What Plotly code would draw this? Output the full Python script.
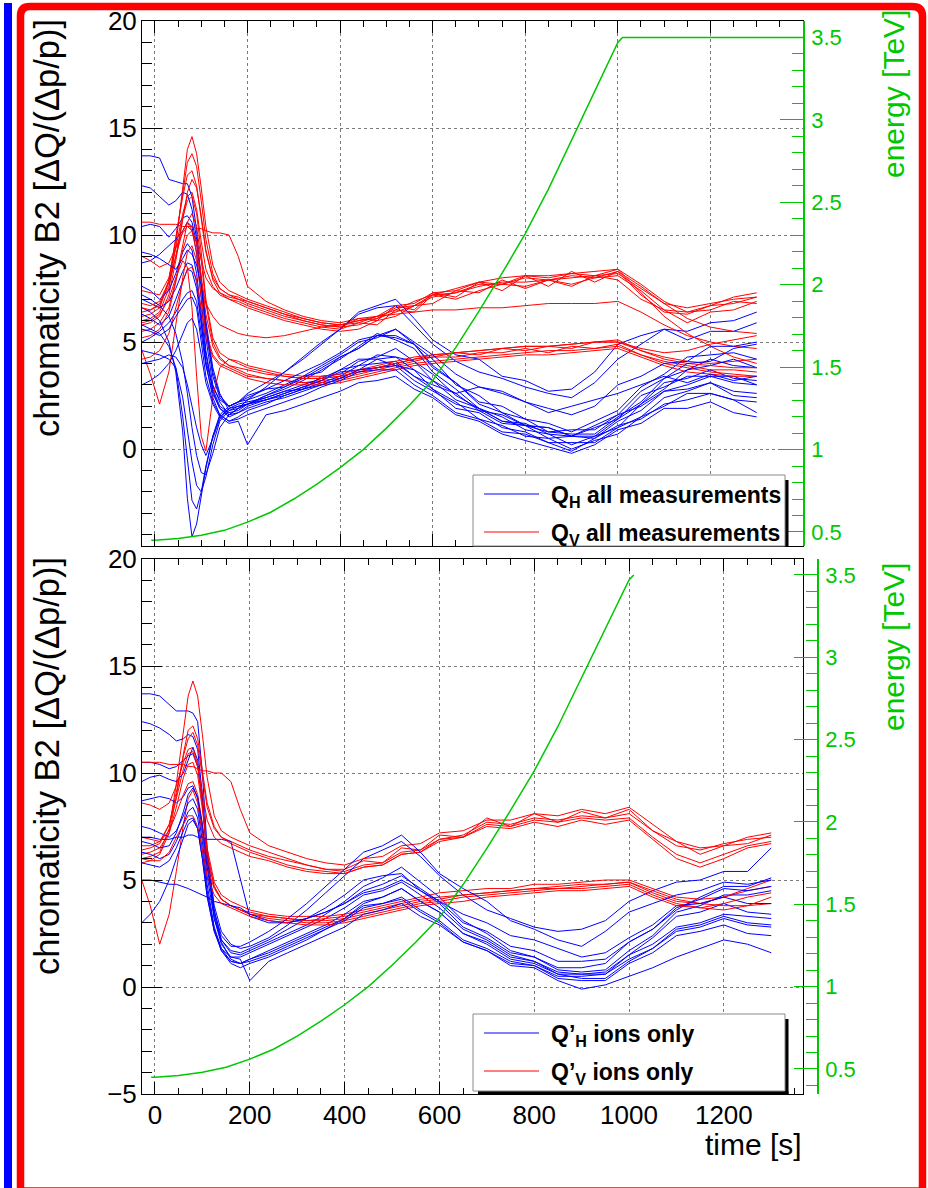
import plotly.graph_objects as go

W, H = 928, 1188

# ---------------------------------------------------------------- data ----
# common time grid of the chromaticity measurements [s]
time_s = [-28, -10, 10, 30, 45, 60, 70, 80, 90, 100,
          110, 125, 140, 160, 180, 200, 240, 280, 320, 360,
          400, 440, 480, 520, 560, 600, 650, 700, 750, 800,
          850, 900, 950, 1000, 1050, 1100, 1150, 1200, 1250, 1300]

# horizontal chromaticity, all measurements
qh_all = [
    [13.7, 13.7, 13.6, 12.6, 12.5, 12.4, 12.4, 11.8, 10.2, 7.9,
     5.6, 3.4, 2.4, 2.0, 2.2, 2.4, 2.8, 2.9, 3.4, 3.6,
     4.3, 4.7, 5.3, 5.3, 4.9, 3.9, 3.1, 2.2, 2.0, 1.4,
     1.2, 0.8, 1.3, 1.8, 2.9, 3.5, 4.3, 4.4, 4.5, 4.2],
    [12.3, 12.2, 11.8, 11.4, 11.6, 12.0, 11.9, 11.2, 9.8, 8.0,
     6.0, 3.8, 2.6, 1.8, 1.9, 2.1, 2.4, 2.7, 2.8, 3.4,
     3.5, 4.1, 4.3, 4.7, 4.1, 3.5, 2.5, 1.9, 1.3, 1.1,
     0.5, 0.6, 0.6, 1.4, 2.1, 3.1, 3.3, 3.7, 3.3, 3.2],
    [10.4, 10.5, 10.4, 9.9, 10.3, 10.8, 10.9, 10.6, 9.6, 7.8,
     5.2, 3.0, 2.2, 1.6, 1.9, 2.3, 2.9, 3.6, 4.3, 5.0,
     5.6, 6.3, 6.6, 6.7, 5.8, 4.9, 4.1, 3.6, 3.3, 2.9,
     2.6, 2.4, 3.1, 4.2, 4.9, 5.6, 5.5, 5.9, 6.0, 6.4],
    [8.7, 8.8, 9.1, 9.5, 9.8, 10.2, 10.6, 10.4, 9.1, 7.0,
     4.6, 2.7, 1.9, 1.5, 1.7, 2.0, 2.3, 2.6, 2.9, 3.2,
     3.7, 3.9, 4.4, 4.3, 4.1, 3.2, 2.6, 1.8, 1.6, 1.1,
     1.0, 0.6, 1.0, 1.4, 2.5, 2.9, 3.4, 3.4, 3.4, 3.0],
    [7.6, 7.4, 7.0, 7.4, 8.2, 9.2, 9.6, 9.3, 8.2, 6.4,
     4.4, 2.8, 2.0, 1.7, 1.8, 2.1, 2.5, 2.8, 3.2, 3.7,
     4.2, 4.8, 5.4, 5.1, 4.7, 3.6, 2.8, 1.9, 1.5, 0.9,
     0.7, 0.2, 0.6, 1.0, 2.1, 2.8, 3.7, 3.9, 4.2, 3.8],
    [7.0, 6.8, 6.6, 6.9, 7.5, 8.3, 8.7, 8.6, 7.8, 6.0,
     4.0, 2.4, 1.6, 1.3, 1.5, 1.8, 2.1, 2.5, 2.8, 3.1,
     3.4, 3.9, 4.0, 4.1, 3.4, 2.8, 1.9, 1.7, 1.0, 0.8,
     0.3, 0.3, 0.3, 1.0, 1.5, 2.4, 2.7, 3.1, 2.5, 2.4],
    [6.3, 6.1, 5.8, 6.2, 7.0, 7.9, 8.4, 8.3, 7.5, 5.8,
     4.1, 2.9, 2.3, 2.0, 2.2, 2.6, 3.1, 3.6, 4.2, 4.9,
     5.6, 6.4, 6.7, 7.0, 6.1, 5.1, 4.4, 4.2, 3.4, 3.2,
     2.7, 2.8, 3.6, 4.9, 5.3, 5.6, 5.1, 5.5, 5.5, 5.9],
    [5.0, 5.2, 5.5, 5.9, 6.4, 7.0, 7.3, 7.4, 6.9, 5.5,
     3.9, 2.6, 1.9, 1.6, 1.7, 1.9, 2.2, 2.4, 2.7, 3.0,
     3.3, 3.7, 3.8, 3.9, 3.2, 2.7, 2.1, 1.8, 1.2, 1.1,
     0.8, 0.9, 0.9, 1.6, 2.0, 2.7, 2.8, 3.1, 2.7, 2.6],
    [6.6, 6.4, 6.0, 5.0, 3.6, 0.8, -2.3, -4.1, -3.5, -2.2,
     -0.9, 0.6, 1.6, 2.0, 2.2, 2.3, 2.6, 3.0, 3.4, 3.9,
     4.4, 5.0, 5.2, 5.6, 4.9, 4.2, 3.0, 2.5, 1.7, 1.4,
     0.8, 0.7, 0.7, 1.5, 2.2, 3.3, 3.7, 4.2, 3.9, 3.8],
    [5.8, 5.6, 5.4, 4.8, 3.8, 1.5, -0.6, -2.4, -2.8, -2.0,
     -0.8, 0.6, 1.5, 1.9, 2.1, 2.2, 2.4, 2.7, 3.0, 3.3,
     3.7, 4.2, 4.2, 4.3, 3.7, 3.2, 2.3, 1.9, 1.3, 1.2,
     0.7, 0.6, 0.5, 1.3, 1.8, 2.7, 3.0, 3.4, 3.1, 3.0],
    [4.6, 4.5, 4.4, 4.2, 3.8, 2.4, 0.9, -0.6, -1.7, -2.0,
     -1.3, 0.2, 1.3, 1.8, 2.0, 2.1, 2.3, 2.6, 2.9, 3.2,
     3.6, 3.7, 4.2, 3.9, 3.7, 2.8, 2.2, 1.4, 1.1, 0.6,
     0.5, 0.0, 0.4, 0.7, 1.5, 2.0, 2.6, 2.6, 2.3, 1.7],
    [7.2, 7.0, 6.7, 6.2, 5.4, 4.0, 2.6, 1.0, -0.3, -1.1,
     -1.2, -0.2, 1.0, 1.6, 1.9, 2.1, 2.5, 2.9, 3.3, 3.8,
     4.3, 4.7, 5.3, 5.2, 4.9, 3.8, 3.1, 2.1, 1.7, 1.1,
     1.0, 0.6, 1.1, 1.6, 2.7, 3.3, 4.0, 4.1, 4.7, 4.9],
    [4.0, 4.1, 4.2, 4.4, 4.3, 3.8, 3.0, 2.0, 1.0, 0.2,
     -0.3, 0.5, 1.4, 1.9, 2.0, 2.1, 2.3, 2.5, 2.8, 3.0,
     3.3, 3.7, 3.8, 4.0, 3.4, 3.0, 2.6, 2.9, 2.7, 2.2,
     1.7, 2.0, 2.3, 2.6, 3.0, 3.4, 3.1, 3.5, 3.2, 3.4],
    [3.0, 3.2, 3.5, 4.0, 4.6, 5.4, 5.9, 6.1, 5.6, 4.4,
     3.1, 2.1, 1.5, 1.2, 1.3, 0.2, 1.6, 1.8, 2.1, 2.4,
     2.7, 3.1, 3.2, 3.4, 2.8, 2.4, 1.6, 1.3, 0.7, 0.4,
     0.1, -0.2, 0.2, 0.9, 1.2, 1.9, 1.9, 2.2, 1.7, 1.5],
    [9.2, 9.1, 8.9, 8.6, 8.4, 8.9, 9.3, 9.1, 8.6, 7.6,
     5.8, 3.6, 2.5, 2.0, 2.2, 2.5, 2.8, 3.2, 3.6, 4.0,
     4.5, 5.1, 5.3, 5.6, 5.0, 4.4, 3.5, 2.9, 2.6, 2.2,
     1.9, 1.6, 2.0, 3.0, 3.4, 4.0, 4.1, 4.8, 4.8, 5.0],
    [5.6, 5.5, 5.3, 5.6, 6.2, 6.7, 7.0, 7.1, 6.6, 5.0,
     3.4, 2.2, 1.6, 1.3, 1.4, 1.6, 1.9, 2.2, 2.5, 2.9,
     3.2, 3.6, 3.7, 3.7, 3.0, 2.5, 1.7, 1.4, 0.8, 0.7,
     0.3, -0.1, 0.5, 1.1, 1.4, 2.1, 2.3, 2.6, 2.3, 2.2],
]

# vertical chromaticity, all measurements
qv_all = [
    [6.0, 6.1, 6.4, 7.5, 9.5, 12.2, 14.0, 14.6, 13.8, 12.2,
     10.4, 8.6, 7.8, 7.4, 7.2, 7.0, 6.7, 6.4, 6.1, 5.9,
     5.8, 6.0, 6.1, 6.6, 6.7, 7.2, 7.3, 7.7, 7.7, 8.0,
     7.9, 8.1, 8.0, 8.3, 7.6, 6.8, 6.6, 6.8, 7.0, 7.1],
    [6.2, 6.3, 6.6, 7.8, 9.8, 12.0, 13.4, 13.8, 13.2, 11.6,
     9.8, 8.2, 7.5, 7.2, 7.0, 6.8, 6.5, 6.2, 6.0, 5.8,
     5.7, 6.1, 6.0, 6.7, 6.5, 7.3, 7.1, 7.8, 7.4, 8.1,
     7.6, 8.3, 7.8, 8.3, 7.2, 6.4, 6.3, 6.7, 6.8, 7.1],
    [5.8, 5.9, 6.2, 7.2, 8.8, 10.8, 12.0, 12.6, 12.2, 10.9,
     9.3, 7.9, 7.3, 7.0, 6.8, 6.6, 6.3, 6.0, 5.8, 5.6,
     5.5, 5.6, 6.0, 6.2, 6.7, 6.8, 7.4, 7.3, 7.9, 7.5,
     7.9, 7.6, 8.1, 7.9, 7.0, 6.5, 5.9, 6.4, 6.5, 6.9],
    [6.4, 6.5, 6.8, 7.6, 9.0, 10.8, 11.6, 11.8, 11.0, 9.2,
     7.0, 5.2, 4.5, 4.2, 4.0, 3.8, 3.6, 3.4, 3.3, 3.3,
     3.4, 3.6, 3.8, 4.0, 4.2, 4.3, 4.5, 4.4, 4.7, 4.6,
     4.8, 4.7, 5.0, 5.0, 4.6, 4.3, 4.1, 4.0, 4.1, 4.2],
    [5.5, 5.6, 5.9, 6.6, 7.9, 9.6, 10.6, 11.0, 10.4, 8.8,
     6.8, 5.0, 4.3, 3.9, 3.7, 3.5, 3.3, 3.2, 3.1, 3.2,
     3.3, 3.5, 3.7, 3.9, 4.1, 4.3, 4.3, 4.5, 4.5, 4.7,
     4.5, 4.8, 4.7, 4.9, 4.4, 4.0, 3.8, 3.6, 3.5, 3.4],
    [10.6, 10.6, 10.5, 10.5, 10.5, 10.4, 10.4, 10.4, 10.3, 10.3,
     10.2, 10.1, 10.1, 10.0, 9.0, 7.6, 6.9, 6.5, 6.2, 6.0,
     5.9, 6.1, 6.2, 6.7, 6.8, 7.3, 7.4, 7.8, 7.7, 8.1,
     8.0, 8.2, 8.1, 8.4, 7.7, 6.9, 6.4, 6.7, 7.1, 7.3],
    [9.0, 8.8, 8.5, 8.7, 9.4, 10.1, 10.4, 10.2, 9.7, 8.8,
     8.0, 7.5, 7.3, 7.1, 7.0, 6.9, 6.6, 6.3, 6.1, 5.9,
     5.8, 5.9, 6.2, 6.5, 6.9, 7.2, 7.5, 7.8, 8.0, 8.1,
     8.1, 8.2, 8.3, 8.4, 7.3, 6.2, 5.4, 4.8, 4.3, 4.0],
    [4.6, 3.5, 2.1, 3.6, 5.8, 8.0, 9.2, 9.5, 8.8, 7.2,
     5.5, 4.4, 4.0, 3.8, 3.6, 3.4, 3.3, 3.2, 3.1, 3.1,
     3.2, 3.4, 3.6, 3.8, 4.0, 4.1, 4.2, 4.3, 4.4, 4.5,
     4.6, 4.6, 4.7, 4.8, 4.4, 4.1, 3.9, 3.7, 3.7, 3.6],
    [7.4, 7.3, 7.2, 8.0, 9.4, 11.0, 11.8, 12.0, 11.2, 9.7,
     8.4, 7.6, 7.2, 7.0, 6.9, 6.7, 6.4, 6.1, 5.9, 5.7,
     5.6, 5.9, 5.8, 6.5, 6.4, 7.2, 7.0, 7.4, 7.7, 7.6,
     7.9, 7.7, 8.0, 8.1, 7.4, 6.5, 6.4, 6.5, 6.9, 6.8],
    [6.8, 6.7, 6.9, 7.8, 9.0, 10.2, 10.6, 10.2, 9.2, 7.8,
     6.8, 6.2, 5.8, 5.6, 5.4, 5.3, 5.2, 5.3, 5.5, 5.7,
     5.8, 6.0, 6.2, 6.3, 6.4, 6.5, 6.5, 6.6, 6.6, 6.7,
     6.8, 6.8, 6.8, 6.9, 6.4, 5.8, 5.3, 5.0, 4.8, 4.7],
    [5.9, 6.0, 6.3, 7.0, 8.0, 8.8, 8.5, 6.6, 3.4, 0.6,
     -0.1, 2.4, 3.8, 4.2, 4.1, 3.9, 3.7, 3.5, 3.4, 3.4,
     3.5, 3.7, 3.9, 4.1, 4.3, 4.4, 4.5, 4.6, 4.7, 4.8,
     4.8, 4.9, 5.0, 5.1, 4.6, 4.2, 4.0, 3.9, 3.8, 3.8],
    [4.2, 4.3, 4.6, 5.4, 6.6, 7.8, 8.4, 8.5, 7.9, 6.6,
     5.2, 4.3, 3.9, 3.7, 3.5, 3.3, 3.1, 3.0, 3.0, 3.0,
     3.1, 3.3, 3.5, 3.7, 3.9, 4.0, 4.1, 4.2, 4.3, 4.4,
     4.4, 4.5, 4.6, 4.7, 4.3, 3.9, 3.6, 3.5, 3.4, 3.4],
    [6.6, 6.5, 6.7, 7.9, 9.9, 11.8, 12.8, 13.0, 12.3, 10.8,
     9.2, 8.0, 7.5, 7.2, 7.1, 6.9, 6.6, 6.3, 6.0, 5.8,
     5.7, 5.8, 6.1, 6.4, 6.7, 7.1, 7.3, 7.6, 7.8, 7.8,
     7.9, 8.0, 8.1, 8.2, 7.5, 6.8, 6.1, 5.7, 5.5, 5.4],
    [5.2, 5.3, 5.6, 6.4, 7.8, 9.3, 10.0, 10.2, 9.6, 8.1,
     6.3, 4.8, 4.2, 3.9, 3.8, 3.7, 3.5, 3.4, 3.3, 3.3,
     3.4, 3.6, 3.8, 4.0, 4.2, 4.4, 4.5, 4.6, 4.7, 4.8,
     4.8, 4.9, 5.0, 5.0, 4.7, 4.5, 4.6, 4.9, 5.1, 5.3],
]

# horizontal chromaticity, ion fills only
qh_ions = [
    [13.7, 13.7, 13.6, 13.2, 12.9, 12.9, 12.9, 12.8, 12.4, 10.0,
     6.5, 3.6, 2.2, 1.6, 1.5, 1.7, 2.1, 2.5, 2.9, 3.4,
     4.0, 4.7, 5.1, 5.6, 4.9, 4.2, 3.1, 2.5, 1.7, 1.4,
     0.9, 0.9, 1.1, 2.1, 2.7, 3.6, 4.2, 4.7, 4.7, 5.1],
    [12.4, 12.3, 12.1, 11.8, 11.5, 11.6, 11.8, 11.7, 11.1, 9.0,
     6.0, 3.2, 2.0, 1.4, 1.4, 1.6, 2.0, 2.4, 2.8, 3.2,
     3.7, 4.3, 4.5, 4.9, 4.3, 3.7, 2.7, 2.2, 1.5, 1.2,
     0.7, 0.6, 0.6, 1.5, 2.3, 3.3, 3.5, 3.9, 3.5, 3.4],
    [10.5, 10.5, 10.4, 10.2, 10.3, 10.6, 10.8, 10.9, 10.3, 8.6,
     6.2, 3.8, 2.6, 2.0, 1.8, 1.9, 2.3, 2.9, 3.6, 4.4,
     5.2, 6.0, 6.4, 6.8, 6.1, 5.2, 4.3, 3.6, 3.2, 2.8,
     2.6, 2.7, 3.1, 4.0, 4.5, 4.9, 5.0, 5.4, 5.4, 6.5],
    [9.6, 9.8, 9.9, 9.7, 9.6, 10.0, 10.6, 11.2, 10.6, 8.7,
     6.0, 3.4, 2.1, 1.3, 1.1, 1.3, 1.7, 2.1, 2.5, 2.9,
     3.4, 4.0, 4.2, 4.6, 4.0, 3.5, 2.5, 2.1, 1.4, 1.2,
     0.6, 0.4, 0.4, 1.2, 1.8, 2.7, 2.9, 3.3, 3.0, 2.9],
    [8.7, 8.8, 8.9, 8.8, 8.6, 8.9, 9.3, 9.4, 8.8, 7.3,
     5.2, 3.2, 2.2, 1.7, 1.6, 1.8, 2.2, 2.7, 3.2, 3.7,
     4.3, 5.0, 5.2, 5.3, 4.5, 3.9, 2.8, 2.3, 1.6, 1.4,
     0.8, 0.7, 0.8, 1.7, 2.4, 3.5, 3.8, 4.3, 4.3, 4.5],
    [7.5, 7.4, 7.2, 7.0, 7.3, 8.0, 8.6, 8.8, 8.3, 6.8,
     4.8, 2.8, 1.8, 1.2, 1.1, 1.3, 1.6, 2.0, 2.4, 2.8,
     3.2, 3.8, 3.9, 4.2, 3.6, 3.1, 2.2, 1.8, 1.2, 1.0,
     0.4, 0.3, 0.3, 1.1, 1.6, 2.4, 2.6, 2.9, 2.5, 2.4],
    [7.0, 7.0, 6.9, 6.9, 7.0, 7.0, 7.1, 7.1, 7.0, 7.0,
     6.9, 6.9, 6.9, 6.8, 5.0, 3.3, 3.0, 3.0, 3.2, 3.5,
     3.9, 4.5, 4.8, 5.2, 4.6, 4.0, 3.4, 3.0, 2.4, 2.2,
     1.8, 1.4, 1.6, 2.3, 2.9, 3.8, 3.9, 4.2, 3.9, 3.9],
    [6.3, 6.2, 6.0, 6.2, 6.8, 7.6, 8.2, 8.4, 7.9, 6.4,
     4.5, 2.7, 1.7, 1.1, 0.9, 1.1, 1.4, 1.8, 2.2, 2.7,
     3.2, 3.9, 4.2, 4.6, 4.0, 3.5, 2.5, 2.0, 1.3, 1.1,
     0.6, 0.6, 0.7, 1.5, 2.0, 2.8, 3.0, 3.4, 3.3, 3.2],
    [5.0, 5.0, 4.9, 4.8, 4.8, 4.7, 4.6, 4.5, 4.4, 4.3,
     4.2, 4.0, 3.9, 3.8, 3.7, 3.4, 3.1, 3.0, 3.2, 3.5,
     3.9, 4.4, 4.6, 5.0, 4.5, 4.0, 3.0, 2.6, 1.9, 1.7,
     1.2, 1.2, 1.3, 2.1, 2.7, 3.7, 4.1, 4.6, 4.5, 4.7],
    [3.0, 3.4, 4.0, 5.0, 6.0, 7.0, 7.6, 7.8, 7.4, 6.0,
     4.2, 2.6, 1.7, 1.2, 1.1, 1.2, 1.5, 1.9, 2.3, 2.7,
     3.1, 3.7, 3.9, 4.1, 3.5, 3.0, 2.1, 1.7, 1.0, 0.9,
     0.3, -0.1, 0.1, 0.5, 0.9, 1.4, 1.8, 2.2, 2.0, 1.6],
    [6.8, 6.7, 6.5, 6.6, 7.2, 8.2, 9.0, 9.3, 8.9, 7.6,
     5.6, 3.5, 2.4, 1.9, 1.9, 2.1, 2.6, 3.2, 3.9, 4.7,
     5.5, 6.3, 6.6, 7.1, 6.3, 5.3, 4.6, 4.0, 3.1, 2.7,
     2.2, 1.9, 2.6, 3.5, 3.9, 4.3, 4.5, 4.9, 4.8, 5.0],
    [5.8, 5.7, 5.6, 5.9, 6.5, 7.3, 7.8, 7.9, 7.4, 6.0,
     4.3, 2.6, 1.8, 1.4, 1.3, 0.3, 1.2, 1.6, 2.0, 2.4,
     2.8, 3.4, 3.6, 3.9, 3.3, 2.9, 2.1, 1.7, 1.1, 1.0,
     0.5, 0.5, 0.6, 1.3, 1.8, 2.6, 2.8, 3.2, 2.9, 2.8],
]

# vertical chromaticity, ion fills only
qv_ions = [
    [6.0, 6.1, 6.3, 7.4, 9.5, 12.0, 13.6, 14.3, 13.6, 11.8,
     9.8, 8.0, 7.3, 7.0, 6.8, 6.6, 6.3, 6.0, 5.7, 5.5,
     5.4, 5.7, 5.8, 6.3, 6.4, 6.9, 7.1, 7.7, 7.6, 7.9,
     7.8, 8.0, 7.9, 8.1, 7.3, 6.6, 6.4, 6.7, 6.9, 7.0],
    [6.4, 6.5, 6.7, 7.6, 9.1, 10.8, 11.6, 11.9, 11.3, 9.9,
     8.4, 7.4, 7.0, 6.8, 6.6, 6.4, 6.1, 5.9, 5.7, 5.5,
     5.5, 5.9, 5.8, 6.5, 6.4, 7.1, 7.0, 7.9, 7.5, 8.1,
     7.7, 8.2, 7.9, 8.3, 7.3, 6.8, 6.2, 6.6, 6.7, 7.1],
    [10.5, 10.5, 10.5, 10.4, 10.4, 10.4, 10.3, 10.3, 10.2, 10.1,
     10.1, 10.0, 10.0, 9.6, 8.3, 7.2, 6.6, 6.3, 6.0, 5.8,
     5.7, 6.0, 6.1, 6.6, 6.7, 7.2, 7.3, 7.8, 7.8, 8.1,
     8.0, 8.3, 8.1, 8.4, 7.6, 6.8, 6.5, 6.6, 7.0, 7.2],
    [8.6, 8.5, 8.3, 8.6, 9.4, 10.5, 11.1, 11.2, 10.4, 8.6,
     6.5, 4.9, 4.3, 4.0, 3.8, 3.6, 3.4, 3.3, 3.3, 3.3,
     3.4, 3.6, 3.8, 4.0, 4.2, 4.4, 4.5, 4.6, 4.6, 4.8,
     4.8, 4.9, 5.0, 5.0, 4.6, 4.2, 4.1, 4.2, 4.5, 4.7],
    [5.0, 3.8, 2.0, 3.4, 5.4, 7.6, 8.8, 9.2, 8.6, 7.1,
     5.6, 4.6, 4.1, 3.8, 3.6, 3.4, 3.3, 3.2, 3.1, 3.2,
     3.3, 3.5, 3.7, 3.9, 4.1, 4.2, 4.3, 4.4, 4.5, 4.6,
     4.6, 4.7, 4.8, 4.9, 4.5, 4.1, 3.9, 3.8, 3.8, 3.9],
    [6.2, 6.3, 6.5, 7.2, 8.4, 9.8, 10.4, 10.5, 9.9, 8.3,
     6.3, 4.7, 4.1, 3.8, 3.6, 3.5, 3.3, 3.2, 3.1, 3.1,
     3.2, 3.4, 3.6, 3.8, 4.0, 4.1, 4.3, 4.4, 4.5, 4.6,
     4.7, 4.8, 4.8, 4.9, 4.4, 4.0, 3.9, 4.2, 4.6, 5.0],
    [5.8, 5.9, 6.2, 7.2, 8.9, 10.9, 12.0, 12.2, 11.6, 10.2,
     8.6, 7.5, 7.0, 6.7, 6.5, 6.3, 6.0, 5.7, 5.5, 5.4,
     5.3, 5.6, 5.7, 6.2, 6.3, 6.8, 7.0, 7.6, 7.5, 7.8,
     7.7, 7.9, 7.8, 7.9, 7.0, 6.2, 5.8, 6.2, 6.6, 6.8],
    [7.0, 6.9, 6.8, 7.3, 8.1, 9.0, 9.5, 9.6, 9.0, 7.6,
     6.0, 4.7, 4.1, 3.8, 3.6, 3.4, 3.2, 3.1, 3.0, 3.0,
     3.1, 3.3, 3.5, 3.7, 3.9, 4.0, 4.2, 4.3, 4.4, 4.5,
     4.6, 4.6, 4.7, 4.8, 4.3, 3.9, 3.7, 3.6, 3.8, 4.2],
    [6.6, 6.6, 6.8, 7.6, 8.8, 10.2, 10.9, 11.0, 10.3, 9.0,
     7.8, 7.0, 6.7, 6.5, 6.3, 6.1, 5.9, 5.6, 5.4, 5.3,
     5.3, 5.6, 5.7, 6.2, 6.3, 6.9, 7.0, 7.5, 7.4, 7.7,
     7.5, 7.8, 7.6, 7.8, 6.9, 6.0, 5.6, 6.0, 6.5, 6.7],
    [6.0, 5.9, 5.9, 6.3, 7.0, 7.6, 8.0, 8.0, 7.5, 6.4,
     5.2, 4.3, 3.9, 3.7, 3.5, 3.3, 3.1, 3.0, 2.9, 2.9,
     3.0, 3.2, 3.4, 3.6, 3.8, 3.9, 4.0, 4.2, 4.3, 4.4,
     4.5, 4.5, 4.6, 4.7, 4.2, 3.8, 3.7, 3.9, 4.2, 4.4],
]

# beam energy during the ramp [TeV]
ramp_time_all = [-8, 0, 50, 100, 150, 200, 250, 300, 350, 400, 450, 500, 550,
                 600, 650, 700, 750, 800, 850, 900, 950, 1000, 1010,
                 1100, 1200, 1300, 1400]
ramp_energy_all = [0.45, 0.45, 0.46, 0.48, 0.51, 0.56, 0.62, 0.70, 0.79, 0.89,
                   1.00, 1.13, 1.27, 1.42, 1.62, 1.84, 2.07, 2.31, 2.58, 2.88,
                   3.18, 3.47, 3.50, 3.50, 3.50, 3.50, 3.50]
ramp_time_ions = [-8, 0, 50, 100, 150, 200, 250, 300, 350, 400, 450, 500, 550,
                  600, 650, 700, 750, 800, 850, 900, 950, 1000, 1010]
ramp_energy_ions = [0.45, 0.45, 0.46, 0.48, 0.51, 0.56, 0.62, 0.70, 0.79, 0.89,
                    1.00, 1.13, 1.27, 1.42, 1.62, 1.84, 2.07, 2.31, 2.58, 2.88,
                    3.18, 3.47, 3.50]

# ------------------------------------------------------------- styling ----
FONT = "Liberation Sans, Arial, sans-serif"
BLUE = "#0000ff"
RED = "#ff0000"
GREEN = "#00c800"
GRID = "#7a7a7a"


def fx(x):
    """horizontal pixel -> paper fraction"""
    return x / W


def fy(y):
    """vertical pixel measured from the top -> paper fraction"""
    return 1 - y / H


fig = go.Figure()


def add_measurements(h_sets, v_sets, xa, ya):
    n = max(len(h_sets), len(v_sets))
    for i in range(n):
        if i < len(h_sets):
            fig.add_trace(go.Scatter(x=time_s, y=h_sets[i], mode="lines",
                                     line=dict(color=BLUE, width=1),
                                     xaxis=xa, yaxis=ya, hoverinfo="skip"))
        if i < len(v_sets):
            fig.add_trace(go.Scatter(x=time_s, y=v_sets[i], mode="lines",
                                     line=dict(color=RED, width=1),
                                     xaxis=xa, yaxis=ya, hoverinfo="skip"))


add_measurements(qh_all, qv_all, "x", "y")
add_measurements(qh_ions, qv_ions, "x2", "y3")

fig.add_trace(go.Scatter(x=ramp_time_all, y=ramp_energy_all, mode="lines",
                         line=dict(color=GREEN, width=1.5),
                         xaxis="x", yaxis="y2", hoverinfo="skip"))
fig.add_trace(go.Scatter(x=ramp_time_ions, y=ramp_energy_ions, mode="lines",
                         line=dict(color=GREEN, width=1.5),
                         xaxis="x2", yaxis="y4", hoverinfo="skip"))

time_axis = dict(showline=True, linecolor="black", linewidth=1, mirror="ticks",
                 ticks="inside", ticklen=12, tickwidth=1, tickcolor="black",
                 tick0=0, dtick=200,
                 minor=dict(tick0=0, dtick=50, ticklen=6, ticks="inside",
                            tickcolor="black", showgrid=False),
                 showgrid=True, gridcolor=GRID, griddash="dot", gridwidth=1,
                 zeroline=False, automargin=False, ticklabelstandoff=-2,
                 tickfont=dict(family=FONT, size=26, color="black"))

chroma_axis = dict(showline=True, linecolor="black", linewidth=1, mirror=True,
                   ticks="inside", ticklen=20, tickwidth=1, tickcolor="black",
                   tick0=0, dtick=5,
                   minor=dict(tick0=0, dtick=1, ticklen=10, ticks="inside",
                              tickcolor="black", showgrid=False),
                   showgrid=True, gridcolor=GRID, griddash="dot", gridwidth=1,
                   zeroline=False, ticklabelstandoff=-1, automargin=False,
                   tickfont=dict(family=FONT, size=26, color="black"))

energy_axis = dict(showline=True, linecolor=GREEN, linewidth=1.5, side="right",
                   ticks="inside", ticklen=23, tickwidth=1, tickcolor=GREEN,
                   tick0=0.5, dtick=0.5,
                   minor=dict(tick0=0.5, dtick=0.1, ticklen=11, ticks="inside",
                              tickcolor=GREEN, showgrid=False),
                   showgrid=False, zeroline=False, ticklabelstandoff=2,
                   automargin=False,
                   tickfont=dict(family=FONT, size=22, color=GREEN))

fig.update_layout(
    width=W, height=H,
    margin=dict(l=0, r=0, t=0, b=0, pad=0, autoexpand=False),
    paper_bgcolor="white", plot_bgcolor="white", showlegend=False,
    xaxis=dict(time_axis, domain=[fx(142), fx(803)], range=[-28, 1400],
               anchor="y", showticklabels=False),
    yaxis=dict(chroma_axis, domain=[fy(546), fy(21)], range=[-4.53, 20],
               anchor="x"),
    yaxis2=dict(energy_axis, overlaying="y", anchor="x", range=[0.415, 3.6]),
    xaxis2=dict(time_axis, domain=[fx(142), fx(803)], range=[-27.4, 1367],
                anchor="y3"),
    yaxis3=dict(chroma_axis, domain=[fy(1094), fy(559)], range=[-5, 20],
                anchor="x2"),
    yaxis4=dict(energy_axis, overlaying="y3", anchor="free",
                position=fx(818), range=[0.348, 3.597]),
)

shapes = []
annotations = []

# outer frames
shapes.append(dict(type="rect", xref="paper", yref="paper",
                   x0=fx(4), x1=fx(12), y0=fy(1192), y1=fy(3),
                   fillcolor=BLUE, line=dict(width=0), layer="above"))
red_frame = (f"M {fx(20.5)},{fy(1191)} L {fx(20.5)},{fy(16)} "
             f"Q {fx(20.5)},{fy(6.5)} {fx(30)},{fy(6.5)} "
             f"L {fx(912)},{fy(6.5)} Q {fx(922.5)},{fy(6.5)} {fx(922.5)},{fy(16)} "
             f"L {fx(922.5)},{fy(1191)} Z")
shapes.append(dict(type="path", xref="paper", yref="paper", path=red_frame,
                   line=dict(color=RED, width=7.5), layer="above"))


def legend_box(x0, y0, x1, y1, shadow_bottom):
    shapes.append(dict(type="rect", xref="paper", yref="paper",
                       x0=fx(x1), x1=fx(x1 + 3.5), y0=fy(y1 + (3 if shadow_bottom else 0)),
                       y1=fy(y0 + 5), fillcolor="black", line=dict(width=0),
                       layer="above"))
    if shadow_bottom:
        shapes.append(dict(type="rect", xref="paper", yref="paper",
                           x0=fx(x0 + 5), x1=fx(x1 + 3.5), y0=fy(y1 + 3),
                           y1=fy(y1), fillcolor="black", line=dict(width=0),
                           layer="above"))
    shapes.append(dict(type="rect", xref="paper", yref="paper",
                       x0=fx(x0), x1=fx(x1), y0=fy(y1), y1=fy(y0),
                       fillcolor="white", line=dict(color="#8a8a8a", width=1),
                       layer="above"))


def legend_entry(y, color, text):
    shapes.append(dict(type="line", xref="paper", yref="paper",
                       x0=fx(484), x1=fx(539), y0=fy(y), y1=fy(y),
                       line=dict(color=color, width=1), layer="above"))
    annotations.append(dict(xref="paper", yref="paper", x=fx(549), y=fy(y + 2),
                            xanchor="left", yanchor="middle", showarrow=False,
                            text=text, font=dict(family=FONT, size=23, color="black")))


legend_box(473, 475, 785, 546, False)
legend_entry(494, BLUE, "<b>Q<sub>H</sub> all measurements</b>")
legend_entry(532, RED, "<b>Q<sub>V</sub> all measurements</b>")

legend_box(473, 1014, 785, 1091, True)
legend_entry(1033, BLUE, "<b>Q’<sub>H</sub> ions only</b>")
legend_entry(1071, RED, "<b>Q’<sub>V</sub> ions only</b>")

# axis titles
ytitle = "chromaticity B2 [ΔQ/(Δp/p)]"
annotations.append(dict(xref="paper", yref="paper", x=fx(47), y=fy(228),
                        text=ytitle, textangle=-90, showarrow=False,
                        xanchor="center", yanchor="middle",
                        font=dict(family=FONT, size=34.5, color="black")))
annotations.append(dict(xref="paper", yref="paper", x=fx(47), y=fy(766),
                        text=ytitle, textangle=-90, showarrow=False,
                        xanchor="center", yanchor="middle",
                        font=dict(family=FONT, size=34.5, color="black")))
annotations.append(dict(xref="paper", yref="paper", x=fx(893), y=fy(94),
                        text="energy [TeV]", textangle=-90, showarrow=False,
                        xanchor="center", yanchor="middle",
                        font=dict(family=FONT, size=30, color=GREEN)))
annotations.append(dict(xref="paper", yref="paper", x=fx(893), y=fy(647),
                        text="energy [TeV]", textangle=-90, showarrow=False,
                        xanchor="center", yanchor="middle",
                        font=dict(family=FONT, size=30, color=GREEN)))
annotations.append(dict(xref="paper", yref="paper", x=fx(804), y=fy(1144),
                        text="time [s]", showarrow=False,
                        xanchor="right", yanchor="middle",
                        font=dict(family=FONT, size=30, color="black")))

fig.update_layout(shapes=shapes, annotations=annotations)

fig.write_html("out.html")
